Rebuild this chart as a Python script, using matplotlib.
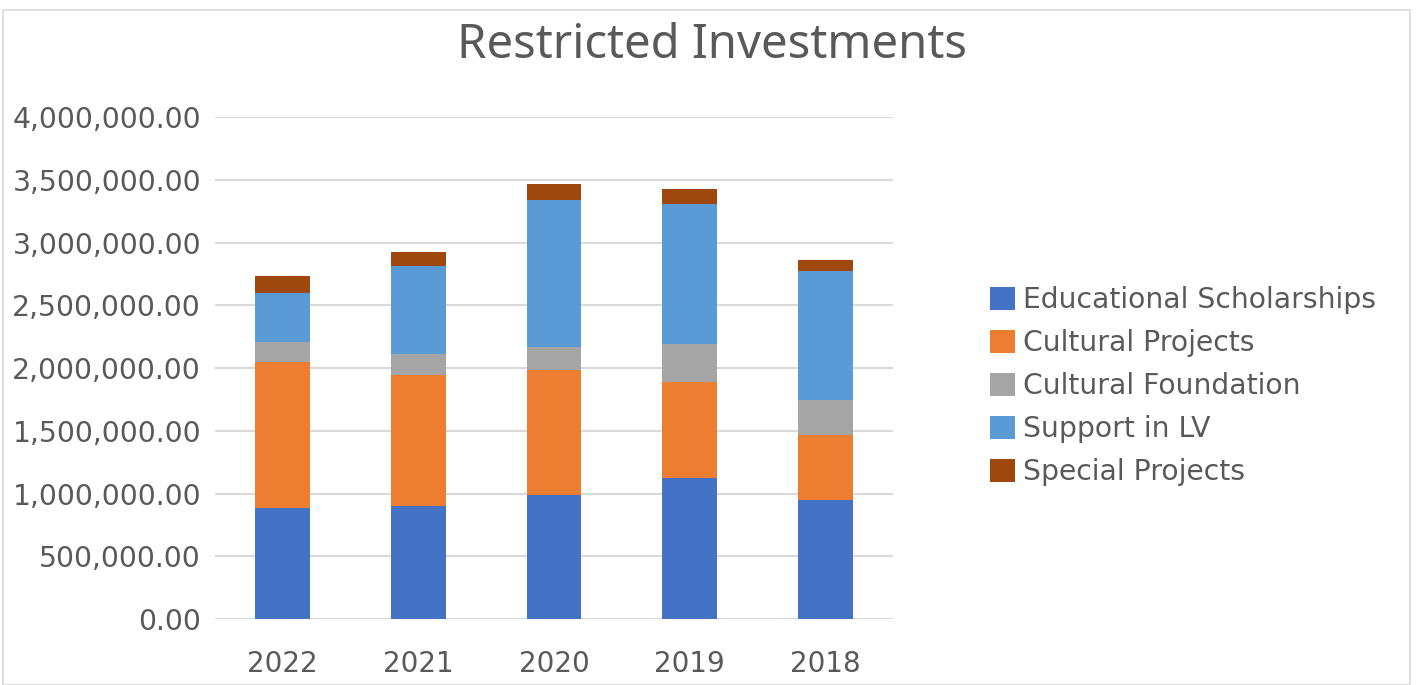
import matplotlib
matplotlib.use("Agg")
import matplotlib.pyplot as plt
from matplotlib.patches import Rectangle
from matplotlib.ticker import FuncFormatter, MultipleLocator
import numpy as np

years = ["2022", "2021", "2020", "2019", "2018"]
educational = [882000, 903000, 991000, 1121000, 951000]
cultural_projects = [1164000, 1039000, 997000, 769000, 513000]
cultural_foundation = [165000, 166000, 178000, 305000, 279000]
support_lv = [383000, 704000, 1172000, 1109000, 1029000]
special_projects = [143000, 111000, 125000, 119000, 87000]

series_names = ["Educational Scholarships", "Cultural Projects", "Cultural Foundation",
                "Support in LV", "Special Projects"]
colors = ["#4472C4", "#ED7D31", "#A5A5A5", "#5B9BD5", "#9E480E"]

plt.rcParams['font.family'] = ['DejaVu Sans']

fig = plt.figure(figsize=(14.2, 6.85), dpi=100)
ax = fig.add_axes([215/1420, 66/685, 678/1420, 502/685])

x = np.arange(len(years))
bottom = np.zeros(len(years))
handles = []
for name, vals, c in zip(series_names,
                         [educational, cultural_projects, cultural_foundation, support_lv, special_projects],
                         colors):
    b = ax.bar(x, vals, width=0.405, bottom=bottom, color=c, label=name, zorder=3, linewidth=0)
    handles.append(b)
    bottom += np.array(vals)

ax.set_xlim(-0.5, 4.5)
ax.set_ylim(0, 4000000)
ax.yaxis.set_major_locator(MultipleLocator(500000))
ax.yaxis.set_major_formatter(FuncFormatter(lambda v, p: f"{v:,.2f}"))
ax.set_xticks(x)
ax.set_xticklabels(years)
ax.grid(axis='y', color='#D9D9D9', linewidth=1.5, zorder=0)
for s in ax.spines.values():
    s.set_visible(False)
ax.tick_params(axis='y', length=0, pad=10, labelsize=20.3, labelcolor='#595959')
ax.tick_params(axis='x', length=0, pad=22, labelsize=20, labelcolor='#595959')

fig.text((458+965)/2/1420, 1-45/685, "Restricted Investments", ha='center', va='center',
         fontsize=34, color='#595959', family='Noto Sans')

fig.legend(handles=handles, labels=series_names, loc='upper left',
           bbox_to_anchor=(965/1420, 1-261/685), frameon=False, fontsize=20.3,
           labelcolor='#595959', handlelength=0.89, handleheight=0.89,
           handletextpad=0.28, labelspacing=0.53)

fig.patches.append(Rectangle((3/1420, 0), 1407/1420, 1-10/685, transform=fig.transFigure,
                             fill=False, edgecolor='#D9D9D9', linewidth=1.2))

fig.savefig("out.png", dpi=100)
